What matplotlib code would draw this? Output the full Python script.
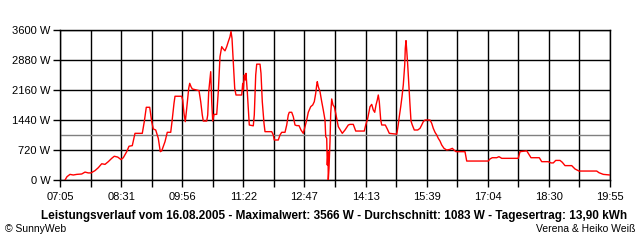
import matplotlib
matplotlib.use("Agg")
import matplotlib.pyplot as plt

# time in minutes since midnight, power in W
minutes = [432, 434.8, 439, 443.6, 448.4, 455.4, 460, 464.6, 468.4, 474, 478.6, 483.4, 488, 492.6,
           497.4, 501, 505.8, 510.4, 513.6, 518.4, 521.6, 526.2, 530, 540.2, 543, 545.8, 550.6, 553.4,
           555.6, 559, 562.6, 565.4, 567.4, 572, 575.2, 580, 581.8, 584.6, 586, 595.4, 596.8, 598.6,
           600.4, 602.4, 605.2, 606.6, 608.4, 610.2, 619.6, 622, 624.2, 625.6, 630.4, 631.8, 633.2,
           635, 636, 637.4, 638.8, 640.6, 644.4, 646.6, 649, 651.4, 653.6, 656, 658.4, 660.6, 663,
           664.4, 665.8, 667.6, 669.6, 671.4, 679.4, 680.8, 681.6, 683, 684.4, 685.4, 687.2, 689.2,
           690, 695.6, 697, 699, 700.4, 705, 706.4, 708.2, 710.6, 712, 721.4, 723.6, 725, 730.6, 733,
           735.4, 740, 742.4, 744.6, 746, 749.4, 751.6, 754, 756.4, 759.6, 762.4, 765.6, 768, 770.4,
           772.6, 776, 778.8, 781, 783, 784.4, 785.2, 786.6, 789, 791.4, 793.6, 796, 797, 798.4,
           799.2, 800.2, 800.6, 801.6, 803, 804, 805.4, 807.2, 809, 811, 812.8, 814.6, 817.4, 820.2,
           824, 828.6, 831, 835.6, 839, 851, 853, 855.8, 857.6, 859, 861.4, 863.6, 865.6, 867.4,
           869.2, 870.6, 872, 874, 875.4, 880.4, 883.2, 886, 896.4, 897.2, 898.6, 900, 902, 903.8,
           905.6, 906.6, 907.6, 908.4, 909.4, 910.4, 911.8, 913.6, 915, 916.4, 918.2, 921, 925.8,
           929, 931.4, 933.6, 936, 943, 945.4, 947.6, 950, 952.4, 954.6, 957, 959.4, 962.6, 966.4,
           971, 974.2, 976.6, 979.4, 992, 994.4, 1024.6, 1027, 1030.2, 1036.4, 1039.6, 1043.4,
           1066.6, 1069, 1078.4, 1080.6, 1084.4, 1096, 1099.4, 1108.6, 1112.4, 1115.6, 1119, 1125,
           1128.2, 1132, 1141.4, 1146, 1151.6, 1176.4, 1179.6, 1185.6, 1195]
power = [0, 80, 135, 120, 135, 144, 190, 170, 170, 225, 295, 390, 375, 440,
         520, 570, 550, 490, 535, 680, 810, 825, 1120, 1120, 1400, 1745, 1745, 1400,
         1225, 1200, 1000, 680, 700, 920, 1145, 1145, 1400, 1840, 2010, 2010, 1920, 1600,
         1400, 1720, 2200, 2320, 2240, 2185, 2145, 1880, 1560, 1415, 1415, 1560, 2120,
         2440, 2600, 1880, 1415, 1575, 1575, 2120, 2960, 3200, 3145, 3100, 3200, 3320, 3440,
         3566, 3400, 2840, 2200, 2040, 2040, 2320, 2160, 2520, 2400, 2560, 2120, 1560,
         1320, 1300, 1560, 2520, 2780, 2780, 2560, 1880, 1360, 1160, 1160, 1080, 960, 960, 1080,
         1145, 1145, 1320, 1560, 1625, 1625, 1520, 1320, 1305, 1305, 1200, 1120, 1280, 1440,
         1625, 1760, 1800, 1880, 2080, 2280, 2360, 2240, 2120, 1880, 1680, 1440, 1040, 1000,
         360, 680, 0, 280, 920, 1600, 1945, 1800, 1760, 1600, 1440, 1280, 1200, 1120,
         1200, 1320, 1335, 1335, 1175, 1175, 1320, 1480, 1640, 1760, 1815, 1680, 1625, 1800,
         1920, 2040, 1880, 1440, 1320, 1320, 1225, 1120, 1100, 1175, 1335, 1520, 1760, 2000,
         2280, 2520, 2760, 3160, 3345, 3120, 2760, 2200, 1800, 1415, 1320, 1200, 1200,
         1240, 1320, 1400, 1440, 1440, 1360, 1240, 1145, 1080, 1000, 935, 840, 760, 720,
         735, 760, 720, 680, 680, 455, 455, 505, 535, 535, 560, 520,
         520, 680, 700, 640, 535, 535, 440, 440, 410, 410, 470, 470,
         425, 345, 345, 265, 215, 215, 175, 135, 120]

average = 1083
y_ticks = [0, 720, 1440, 2160, 2880, 3600]
x_labels = ["07:05", "08:31", "09:56", "11:22", "12:47", "14:13", "15:39", "17:04", "18:30", "19:55"]
t_start, t_end = 425, 1195
title = "Leistungsverlauf vom 16.08.2005 - Maximalwert: 3566 W - Durchschnitt: 1083 W - Tagesertrag: 13,90 kWh"

plt.rcParams['font.family'] = ['Liberation Sans', 'DejaVu Sans']

fig = plt.figure(figsize=(6.4, 2.4), dpi=100)
ax = fig.add_axes([60/640, 60/240, 550/640, 150/240])

n = 18
step = (t_end - t_start) / n
major = [t_start + 2*k*step for k in range(len(x_labels))]
minor = [t_start + (2*k+1)*step for k in range(n//2)]

ax.set_xlim(t_start, t_end)
ax.set_ylim(0, 3600)
ax.set_xticks(major)
ax.set_xticklabels(x_labels)
ax.set_xticks(minor, minor=True)
ax.set_yticks(y_ticks)
ax.set_yticklabels([f"{v} W" for v in y_ticks])

ax.grid(True, which='both', color='black', linewidth=1.0)
ax.set_axisbelow(True)
ax.tick_params(axis='both', which='both', length=5, width=1.0, color='black',
               labelsize=8, pad=2)
ax.tick_params(axis='x', which='major', pad=4)
for s in ax.spines.values():
    s.set_linewidth(1.0)
    s.set_color('black')

ax.axhline(average, color='#808080', linewidth=1.0, zorder=2)
ax.plot(minutes, power, color='#ff0000', linewidth=1.0, zorder=3)

fig.text(334/640, 1 - 216/240, title, ha='center', va='center', fontsize=8.5, fontweight='bold')
fig.text(5/640, 1 - 229/240, "© SunnyWeb", ha='left', va='center', fontsize=7.5)
fig.text(635/640, 1 - 229/240, "Verena & Heiko Weiß", ha='right', va='center', fontsize=7.5)

fig.savefig("out.png", dpi=100)
